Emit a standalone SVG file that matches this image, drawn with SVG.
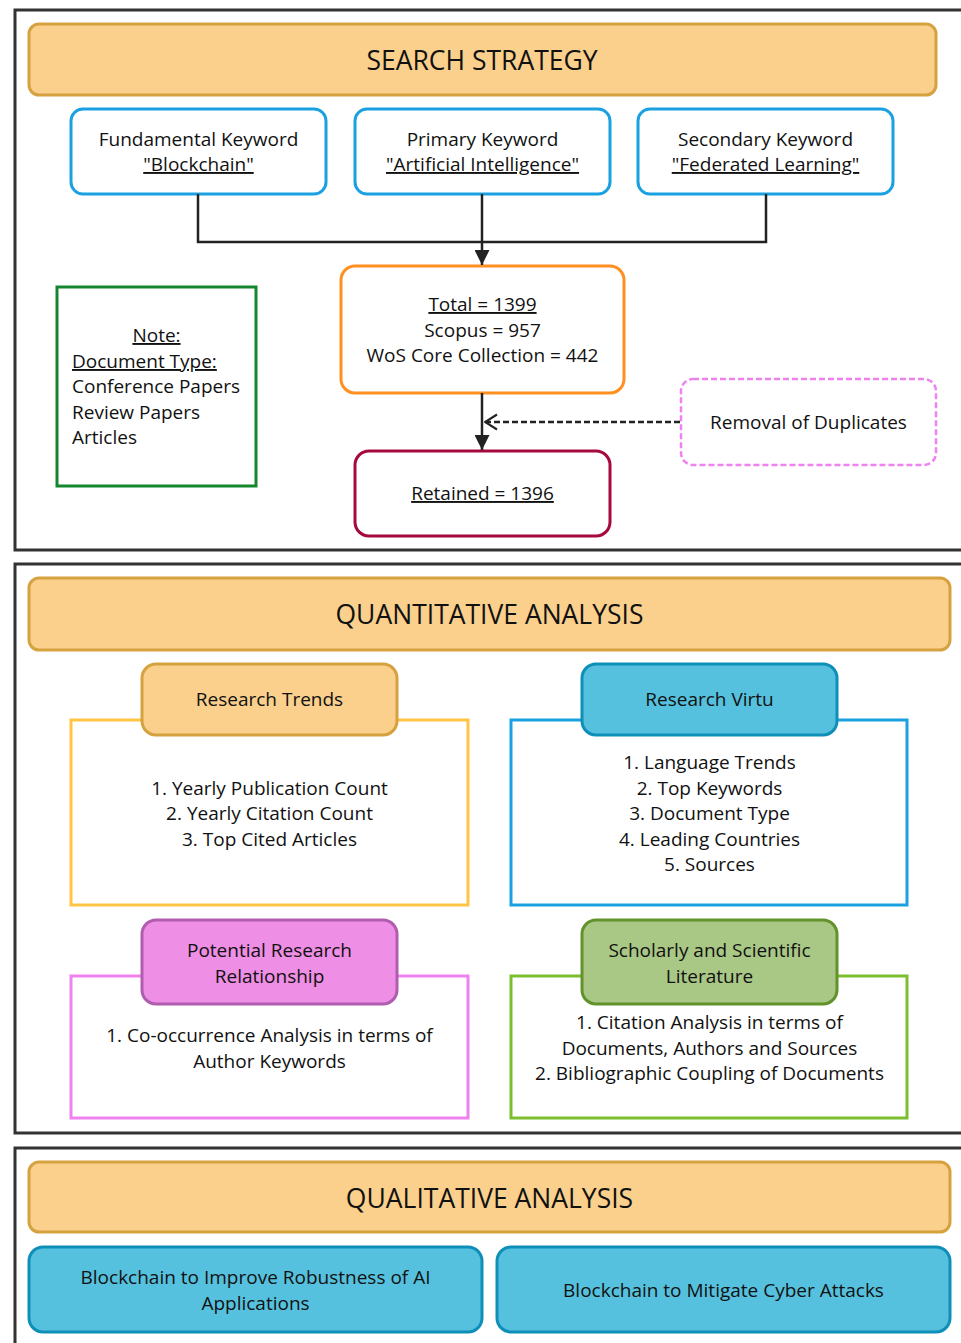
<svg xmlns="http://www.w3.org/2000/svg" width="961" height="1343" viewBox="0 0 961 1343">
<style>
text{font-family:"Open Sans","Noto Sans","Liberation Sans",sans-serif;fill:#111;}
.t{font-size:19px;text-anchor:middle;}
.h{font-size:26.5px;text-anchor:middle;font-weight:500;}
.u{text-decoration:underline;}
.frame{fill:#fff;stroke:#333;stroke-width:3;}
.hdr{fill:#FAD08C;stroke:#D5A23F;stroke-width:3;}
.kw{fill:#fff;stroke:#1BA1E2;stroke-width:3;}
.cy{fill:#56C1DE;stroke:#0E8FB8;stroke-width:3;}
.ln{fill:none;stroke:#222;stroke-width:2.5;}
</style>
<defs>
<marker id="tri" viewBox="0 0 10 10" refX="10" refY="5" markerWidth="6" markerHeight="6" markerUnits="strokeWidth" orient="auto">
<path d="M0,0 L10,5 L0,10 Z" fill="#222"/>
</marker>
<marker id="open" viewBox="0 0 10 10" refX="9" refY="5" markerWidth="6" markerHeight="7" markerUnits="strokeWidth" orient="auto">
<path d="M1,0 L9,5 L1,10" fill="none" stroke="#222" stroke-width="1.4"/>
</marker>
</defs>
<rect width="961" height="1343" fill="#fff"/>

<!-- Section frames -->
<rect class="frame" x="15" y="10" width="960" height="540"/>
<rect class="frame" x="15" y="564" width="960" height="569"/>
<rect class="frame" x="15" y="1148" width="960" height="210"/>

<!-- SEARCH STRATEGY -->
<g id="search-header">
<rect class="hdr" x="29" y="24" width="907" height="71" rx="10"/>
<text class="h" x="482" y="70">SEARCH STRATEGY</text>
</g>
<g id="kw-fundamental">
<rect class="kw" x="71" y="109" width="255" height="85" rx="12"/>
<text class="t" x="198.5" y="146">Fundamental Keyword</text>
<text class="t u" x="198.5" y="171">"Blockchain"</text>
</g>
<g id="kw-primary">
<rect class="kw" x="355" y="109" width="255" height="85" rx="12"/>
<text class="t" x="482.5" y="146">Primary Keyword</text>
<text class="t u" x="482.5" y="171">"Artificial Intelligence"</text>
</g>
<g id="kw-secondary">
<rect class="kw" x="638" y="109" width="255" height="85" rx="12"/>
<text class="t" x="765.5" y="146">Secondary Keyword</text>
<text class="t u" x="765.5" y="171">"Federated Learning"</text>
</g>
<g id="total">
<rect x="341" y="266" width="283" height="127" rx="14" fill="#fff" stroke="#FF9020" stroke-width="3"/>
<text class="t u" x="482.5" y="311">Total = 1399</text>
<text class="t" x="482.5" y="337">Scopus = 957</text>
<text class="t" x="482.5" y="362">WoS Core Collection = 442</text>
</g>
<g id="note">
<rect x="57" y="287" width="199" height="199" fill="#fff" stroke="#13862E" stroke-width="3"/>
<text class="t u" x="156.5" y="342">Note:</text>
<text class="u" x="72" y="368" font-size="19">Document Type: </text>
<text x="72" y="393" font-size="19">Conference Papers</text>
<text x="72" y="419" font-size="19">Review Papers</text>
<text x="72" y="444" font-size="19">Articles</text>
</g>
<g id="removal">
<rect x="681" y="379" width="255" height="86" rx="12" fill="#fff" stroke="#EE82EE" stroke-width="2.5" stroke-dasharray="6,3"/>
<text class="t" x="808.5" y="429">Removal of Duplicates</text>
</g>
<g id="retained">
<rect x="355" y="451" width="255" height="85" rx="14" fill="#fff" stroke="#A6093D" stroke-width="3"/>
<text class="t u" x="482.5" y="500">Retained = 1396</text>
</g>

<!-- connectors -->
<g id="connectors">
<path class="ln" d="M198,194 V242 H766 V194"/>
<path class="ln" d="M482,194 V265" marker-end="url(#tri)"/>
<path class="ln" d="M482,393 V450" marker-end="url(#tri)"/>
<path class="ln" d="M680,422 H485" stroke-dasharray="6,3" marker-end="url(#open)"/>
</g>

<!-- QUANTITATIVE ANALYSIS -->
<g id="quant-header">
<rect class="hdr" x="29" y="578" width="921" height="72" rx="10"/>
<text class="h" x="489.5" y="624">QUANTITATIVE ANALYSIS</text>
</g>
<g id="research-trends">
<rect x="71" y="720" width="397" height="185" fill="#fff" stroke="#FFC444" stroke-width="3"/>
<rect class="hdr" x="142" y="664" width="255" height="71" rx="14"/>
<text class="t" x="269.5" y="706">Research Trends</text>
<text class="t" x="269.5" y="795">1. Yearly Publication Count</text>
<text class="t" x="269.5" y="820">2. Yearly Citation Count</text>
<text class="t" x="269.5" y="846">3. Top Cited Articles</text>
</g>
<g id="research-virtu">
<rect x="511" y="720" width="396" height="185" fill="#fff" stroke="#1BA1E2" stroke-width="3"/>
<rect class="cy" x="582" y="664" width="255" height="71" rx="14"/>
<text class="t" x="709.5" y="706">Research Virtu</text>
<text class="t" x="709.5" y="769">1. Language Trends</text>
<text class="t" x="709.5" y="795">2. Top Keywords</text>
<text class="t" x="709.5" y="820">3. Document Type</text>
<text class="t" x="709.5" y="846">4. Leading Countries</text>
<text class="t" x="709.5" y="871">5. Sources</text>
</g>
<g id="potential-research">
<rect x="71" y="976" width="397" height="142" fill="#fff" stroke="#EE82EE" stroke-width="3"/>
<rect x="142" y="920" width="255" height="84" rx="14" fill="#EE8EE4" stroke="#B05DB0" stroke-width="3"/>
<text class="t" x="269.5" y="957">Potential Research</text>
<text class="t" x="269.5" y="983">Relationship</text>
<text class="t" x="269.5" y="1042">1. Co-occurrence Analysis in terms of</text>
<text class="t" x="269.5" y="1068">Author Keywords</text>
</g>
<g id="scholarly">
<rect x="511" y="976" width="396" height="142" fill="#fff" stroke="#7DBE2E" stroke-width="3"/>
<rect x="582" y="920" width="255" height="84" rx="14" fill="#A9C785" stroke="#62922B" stroke-width="3"/>
<text class="t" x="709.5" y="957">Scholarly and Scientific</text>
<text class="t" x="709.5" y="983">Literature</text>
<text class="t" x="709.5" y="1029">1. Citation Analysis in terms of</text>
<text class="t" x="709.5" y="1055">Documents, Authors and Sources</text>
<text class="t" x="709.5" y="1080">2. Bibliographic Coupling of Documents</text>
</g>

<!-- QUALITATIVE ANALYSIS -->
<g id="qual-header">
<rect class="hdr" x="29" y="1162" width="921" height="70" rx="10"/>
<text class="h" x="489.5" y="1208">QUALITATIVE ANALYSIS</text>
</g>
<g id="qual-robustness">
<rect class="cy" x="29" y="1247" width="453" height="85" rx="14"/>
<text class="t" x="255.5" y="1284">Blockchain to Improve Robustness of AI</text>
<text class="t" x="255.5" y="1310">Applications</text>
</g>
<g id="qual-cyber">
<rect class="cy" x="497" y="1247" width="453" height="85" rx="14"/>
<text class="t" x="723.5" y="1297">Blockchain to Mitigate Cyber Attacks</text>
</g>
</svg>
